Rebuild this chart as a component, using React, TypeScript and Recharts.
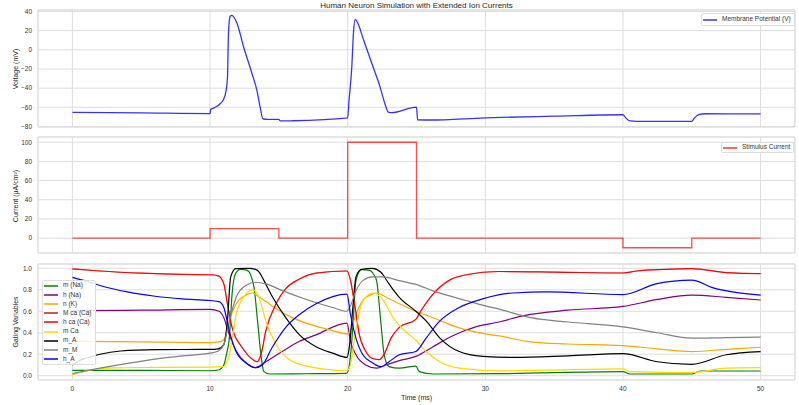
import React from "react";
import {
  LineChart,
  Line,
  XAxis,
  YAxis,
  CartesianGrid,
  ReferenceArea,
  Legend,
} from "recharts";

/* Tick positions */
const TIME_TICKS = [0, 10, 20, 30, 40, 50];
const V_TICKS = [-80, -60, -40, -20, 0, 20, 40];
const I_TICKS = [0, 20, 40, 60, 80, 100];
const G_TICKS = [0, 0.2, 0.4, 0.6, 0.8, 1.0];

/* Membrane potential (ms, mV) */
const voltage: [number, number][] = [
  [0, -65.2], [5, -65.8], [10, -66.5], [10.05, -62], [10.3, -60.5], [10.75, -56],
  [11.0, -51], [11.17, -42], [11.27, -28], [11.34, 17.5], [11.46, 35], [11.58, 36],
  [11.95, 28], [12.43, 3.5], [13.04, -24.5], [13.4, -42], [13.64, -59.7],
  [13.84, -71.9], [14.2, -72.5], [15.0, -72.6], [15.1, -74.2], [16, -74.0],
  [20.0, -71.0], [20.1, -52.6], [20.3, -17.6], [20.42, 17.5], [20.54, 31.6],
  [20.66, 30], [21.15, 10.5], [21.75, -14], [22.35, -38.6], [22.7, -56],
  [22.95, -65], [23.2, -65.6], [25.0, -59.7], [25.08, -73], [26, -73.2],
  [30, -70.9], [35, -69.2], [40, -67.7], [40.2, -71], [40.5, -74.2], [41, -74.6],
  [45, -74.6], [45.2, -71], [45.5, -67.5], [46, -66.7], [50, -66.9],
];

/* Stimulus current (ms, µA/cm²) */
const stimulus: [number, number][] = [
  [0, 0], [10, 10], [15, 0], [20, 100], [25, 0], [40, -10], [45, 0], [50, 0],
];

/* Gating variables (ms, value) */
const mNa: [number, number][] = [
  [0, 0.05], [5, 0.05], [10, 0.046], [10.6, 0.053], [11, 0.1], [11.2, 0.2],
  [11.4, 0.35], [11.6, 0.76], [11.85, 0.95], [12.2, 0.99], [12.6, 0.985],
  [12.85, 0.965], [13.05, 0.9], [13.2, 0.82], [13.45, 0.51], [13.7, 0.195],
  [13.9, 0.04], [14.3, 0.016], [17, 0.018], [19.9, 0.022], [20.05, 0.05],
  [20.25, 0.25], [20.4, 0.51], [20.6, 0.885], [21, 0.987], [21.6, 0.98],
  [21.9, 0.94], [22.1, 0.885], [22.4, 0.51], [22.65, 0.195], [23, 0.085],
  [23.75, 0.07], [24.95, 0.09], [25.2, 0.038], [26.2, 0.016], [31, 0.019],
  [40, 0.038], [40.5, 0.016], [45, 0.016], [45.6, 0.044], [50, 0.044],
];
const hNa: [number, number][] = [
  [0, 0.605], [5, 0.61], [10, 0.618], [10.65, 0.6], [11, 0.54], [11.4, 0.38],
  [11.9, 0.23], [12.6, 0.12], [13.3, 0.075], [14.05, 0.13], [15.3, 0.23],
  [16.5, 0.32], [17.7, 0.38], [19.95, 0.49], [20.2, 0.32], [20.6, 0.195],
  [21.3, 0.1], [22.1, 0.07], [22.8, 0.1], [23.75, 0.14], [24.95, 0.18],
  [26.2, 0.27], [27.6, 0.37], [29.3, 0.455], [31, 0.5], [32.8, 0.56], [36, 0.61],
  [40, 0.645], [42.5, 0.71], [45, 0.75], [47.5, 0.73], [50, 0.705],
];
const nK: [number, number][] = [
  [0, 0.32], [5, 0.315], [10, 0.308], [10.65, 0.315], [11, 0.335], [11.2, 0.4],
  [11.4, 0.51], [11.9, 0.67], [12.6, 0.75], [13.1, 0.77], [13.45, 0.745],
  [14.5, 0.65], [15.75, 0.555], [17.2, 0.48], [18.9, 0.42], [19.95, 0.39],
  [20.2, 0.42], [20.6, 0.57], [21.1, 0.7], [21.8, 0.76], [22.1, 0.77],
  [22.8, 0.73], [23.75, 0.67], [24.95, 0.6], [26.2, 0.54], [28.1, 0.445],
  [30, 0.39], [31, 0.37], [33.3, 0.315], [36, 0.295], [40, 0.28], [42.5, 0.25],
  [45, 0.225], [47.5, 0.245], [50, 0.265],
];
const hCa: [number, number][] = [
  [0, 0.994], [2, 0.975], [5, 0.955], [8, 0.943], [10, 0.94], [10.6, 0.93],
  [11, 0.855], [11.26, 0.67], [11.6, 0.45], [12.35, 0.26], [13.1, 0.15],
  [13.4, 0.13], [13.7, 0.195], [14.05, 0.415], [14.8, 0.67], [15.5, 0.81],
  [16.5, 0.9], [17.7, 0.955], [19.95, 0.975], [20.2, 0.89], [20.5, 0.67],
  [20.85, 0.38], [21.3, 0.23], [21.8, 0.16], [22.3, 0.15], [22.65, 0.2],
  [23.15, 0.35], [23.75, 0.45], [24.95, 0.525], [25.3, 0.6], [26.2, 0.76],
  [27.4, 0.89], [28.6, 0.94], [31, 0.97], [35, 0.965], [40, 0.956], [41, 0.975],
  [43, 0.99], [45, 0.997], [47.5, 0.96], [50, 0.95],
];
// M ca (Ca) sits exactly under h ca (Ca) in the reference; it never shows.
const MCa: [number, number][] = hCa;
const mCa: [number, number][] = [
  [0, 0.01], [1, 0.045], [2, 0.065], [3, 0.073], [6, 0.077], [10, 0.08],
  [11, 0.085], [11.2, 0.12], [11.4, 0.195], [11.65, 0.38], [11.9, 0.57],
  [12.6, 0.76], [13.1, 0.8], [13.45, 0.76], [13.75, 0.65], [14.05, 0.51],
  [14.8, 0.29], [15.75, 0.15], [17.2, 0.085], [19.95, 0.047], [20.2, 0.1],
  [20.5, 0.35], [20.85, 0.6], [21.3, 0.73], [21.9, 0.77], [22.6, 0.7],
  [23.3, 0.54], [24.3, 0.4], [24.95, 0.33], [25.7, 0.225], [26.7, 0.13],
  [28.1, 0.07], [31, 0.045], [40, 0.063], [40.5, 0.038], [45, 0.03],
  [47.5, 0.07], [50, 0.075],
];
const mA: [number, number][] = [
  [0, 0.1], [0.5, 0.14], [1, 0.165], [2, 0.2], [3.5, 0.23], [6, 0.243],
  [10, 0.245], [10.6, 0.25], [11, 0.29], [11.26, 0.51], [11.5, 0.92],
  [11.87, 0.997], [12.84, 1.0], [13.3, 0.99], [13.57, 0.965], [13.9, 0.89],
  [14.55, 0.73], [15.5, 0.54], [16.5, 0.38], [17.7, 0.27], [18.9, 0.21],
  [19.95, 0.17], [20.1, 0.25], [20.4, 0.67], [20.6, 0.92], [21, 0.99],
  [21.8, 1.0], [22.4, 0.965], [23, 0.855], [23.75, 0.73], [24.95, 0.6],
  [25.7, 0.51], [26.7, 0.35], [28.1, 0.225], [29.8, 0.18], [32, 0.17],
  [36, 0.185], [40, 0.205], [42.5, 0.13], [45, 0.105], [47.5, 0.195], [50, 0.225],
];
const mM: [number, number][] = [
  [0, 0.02], [2, 0.07], [4, 0.115], [6, 0.155], [8, 0.185], [10, 0.21],
  [10.6, 0.23], [11, 0.29], [11.4, 0.51], [11.9, 0.73], [12.6, 0.84],
  [13.3, 0.87], [14.05, 0.855], [15.3, 0.79], [17, 0.71], [18.9, 0.635],
  [19.95, 0.6], [20.2, 0.65], [20.6, 0.79], [21.1, 0.885], [21.8, 0.92],
  [22.55, 0.92], [23.75, 0.885], [24.95, 0.85], [26.2, 0.79], [28.6, 0.7],
  [30, 0.65], [31, 0.62], [33.3, 0.54], [36, 0.5], [40, 0.455], [42.5, 0.4],
  [45, 0.35], [47.5, 0.355], [50, 0.36],
];
const hA: [number, number][] = [
  [0, 0.915], [1, 0.88], [2, 0.84], [4, 0.78], [6, 0.74], [8, 0.715], [10, 0.7],
  [10.65, 0.69], [11, 0.635], [11.4, 0.415], [11.87, 0.23], [12.6, 0.12],
  [13.3, 0.075], [13.8, 0.1], [14.5, 0.26], [15.5, 0.45], [16.5, 0.57],
  [17.7, 0.67], [19.95, 0.76], [20.2, 0.57], [20.6, 0.35], [21.1, 0.195],
  [21.8, 0.12], [22.4, 0.085], [23, 0.13], [23.75, 0.195], [24.95, 0.225],
  [25.7, 0.35], [26.7, 0.51], [28.1, 0.635], [29.8, 0.715], [32, 0.77],
  [34.5, 0.78], [40, 0.755], [42.4, 0.855], [45, 0.89], [46.5, 0.82], [50, 0.75],
];

const GATING = [
  { name: "m (Na)", color: "#008000", pts: mNa, width: 1.2 },
  { name: "h (Na)", color: "#800080", pts: hNa, width: 1.2 },
  { name: "n (K)", color: "#ffa500", pts: nK, width: 1.2 },
  { name: "M ca (Ca)", color: "#a52a2a", pts: MCa, width: 0.5 },
  { name: "h ca (Ca)", color: "#ff0000", pts: hCa, width: 1.2 },
  { name: "m Ca", color: "#ffd700", pts: mCa, width: 1.2 },
  { name: "m_A", color: "#000000", pts: mA, width: 1.2 },
  { name: "m_M", color: "#808080", pts: mM, width: 1.2 },
  { name: "h_A", color: "#0000ff", pts: hA, width: 1.2 },
];

const T_DOMAIN: [number, number] = [-2.5, 52.5];
const FONT = "'Liberation Sans', Arial, sans-serif";
const GRID = "#dddddd";
const TEXT = "#333333";

const rows = (pts: [number, number][]) => pts.map(([t, v]) => ({ t, v }));
const minus = (v: number) => String(v).replace("-", "\u2212");
const tickStyle = { fontSize: 6.5, fill: TEXT, fontFamily: FONT };

/** matplotlib-style legend box */
function LegendBox({ items, rowH }: { items: { name: string; color: string; alpha?: number }[]; rowH: number }) {
  return (
    <div
      style={{
        background: "rgba(255,255,255,0.85)",
        border: "1px solid #dddddd",
        borderRadius: 2,
        padding: "0px 3px 0px 1px",
        fontFamily: FONT,
      }}
    >
      {items.map((it) => (
        <div key={it.name} style={{ display: "flex", alignItems: "center", height: rowH }}>
          <svg width={14} height={4} style={{ display: "block" }}>
            <line x1={0} x2={14} y1={2} y2={2} stroke={it.color} strokeOpacity={it.alpha ?? 1} strokeWidth={1.5} />
          </svg>
          <span style={{ marginLeft: 5, fontSize: 6.5, color: TEXT, whiteSpace: "nowrap", lineHeight: 1 }}>
            {it.name}
          </span>
        </div>
      ))}
    </div>
  );
}

const legendPos = (top: number, left: number) => ({
  top,
  left,
  right: "auto",
  bottom: "auto",
  width: "auto",
  height: "auto",
});

export default function App() {
  return (
    <div style={{ position: "absolute", left: 0, top: 0, width: 799, height: 405, background: "#fff", fontFamily: FONT }}>
      {/* Voltage panel */}
      <div style={{ position: "absolute", left: 0, top: 0 }}>
        <LineChart width={799} height={130} margin={{ top: 10, right: 4, bottom: 3, left: 8 }}>
          <CartesianGrid stroke={GRID} strokeWidth={1} />
          <ReferenceArea x1={T_DOMAIN[0]} x2={T_DOMAIN[1]} y1={-80.5} y2={41.5} fill="none" stroke={GRID} />
          <XAxis type="number" dataKey="t" domain={T_DOMAIN} ticks={TIME_TICKS} allowDataOverflow hide />
          <YAxis
            type="number"
            domain={[-80.5, 41.5]}
            ticks={V_TICKS}
            interval={0}
            width={30}
            tickLine={false}
            axisLine={false}
            tickSize={4}
            tickMargin={2}
            tick={tickStyle}
            tickFormatter={minus}
            allowDataOverflow
          />
          <Line
            data={rows(voltage)}
            dataKey="v"
            name="Membrane Potential (V)"
            type="monotone"
            stroke="#0000ff"
            strokeOpacity={0.8}
            strokeWidth={1.3}
            dot={false}
            isAnimationActive={false}
          />
          <Legend
            layout="vertical"
            align="center"
            verticalAlign="middle"
            wrapperStyle={legendPos(13, 701)}
            content={() => (
              <LegendBox rowH={11} items={[{ name: "Membrane Potential (V)", color: "#0000ff", alpha: 0.8 }]} />
            )}
          />
        </LineChart>
      </div>

      {/* Stimulus panel */}
      <div style={{ position: "absolute", left: 0, top: 130 }}>
        <LineChart width={799} height={130} margin={{ top: 7, right: 4, bottom: 7, left: 8 }}>
          <CartesianGrid stroke={GRID} strokeWidth={1} />
          <ReferenceArea x1={T_DOMAIN[0]} x2={T_DOMAIN[1]} y1={-15.5} y2={105.5} fill="none" stroke={GRID} />
          <XAxis type="number" dataKey="t" domain={T_DOMAIN} ticks={TIME_TICKS} allowDataOverflow hide />
          <YAxis
            type="number"
            domain={[-15.5, 105.5]}
            ticks={I_TICKS}
            interval={0}
            width={30}
            tickLine={false}
            axisLine={false}
            tickSize={4}
            tickMargin={2}
            tick={tickStyle}
            tickFormatter={minus}
            allowDataOverflow
          />
          <Line
            data={rows(stimulus)}
            dataKey="v"
            name="Stimulus Current"
            type="stepAfter"
            stroke="#ff0000"
            strokeOpacity={0.7}
            strokeWidth={1.3}
            dot={false}
            isAnimationActive={false}
          />
          <Legend
            layout="vertical"
            align="center"
            verticalAlign="middle"
            wrapperStyle={legendPos(12, 721)}
            content={() => <LegendBox rowH={9} items={[{ name: "Stimulus Current", color: "#ff0000", alpha: 0.8 }]} />}
          />
        </LineChart>
      </div>

      {/* Gating panel */}
      <div style={{ position: "absolute", left: 0, top: 254 }}>
        <LineChart width={799} height={151} margin={{ top: 10, right: 4, bottom: 0, left: 8 }}>
          <CartesianGrid stroke={GRID} strokeWidth={1} />
          <ReferenceArea x1={T_DOMAIN[0]} x2={T_DOMAIN[1]} y1={-0.04} y2={1.04} fill="none" stroke={GRID} />
          <XAxis
            type="number"
            dataKey="t"
            domain={T_DOMAIN}
            ticks={TIME_TICKS}
            interval={0}
            height={25}
            tickLine={false}
            axisLine={false}
            tickSize={4}
            tickMargin={2}
            tick={tickStyle}
            allowDataOverflow
          />
          <YAxis
            type="number"
            domain={[-0.04, 1.04]}
            ticks={G_TICKS}
            interval={0}
            width={30}
            tickLine={false}
            axisLine={false}
            tickSize={4}
            tickMargin={2}
            tick={tickStyle}
            tickFormatter={(v: number) => v.toFixed(1)}
            allowDataOverflow
          />
          {GATING.map((s) => (
            <Line
              key={s.name}
              data={rows(s.pts)}
              dataKey="v"
              name={s.name}
              type="monotone"
              stroke={s.color}
              strokeWidth={s.width}
              dot={false}
              isAnimationActive={false}
            />
          ))}
          <Legend
            layout="vertical"
            align="center"
            verticalAlign="middle"
            wrapperStyle={legendPos(26, 42)}
            content={() => <LegendBox rowH={9.2} items={GATING} />}
          />
        </LineChart>
      </div>

      {/* Title and axis labels */}
      <svg
        width={799}
        height={405}
        style={{ position: "absolute", left: 0, top: 0, pointerEvents: "none" }}
        fontFamily={FONT}
        fill="#262626"
      >
        <text x={416.5} y={5} fontSize={8} textAnchor="middle" dominantBaseline="central">
          Human Neuron Simulation with Extended Ion Currents
        </text>
        <text x={15} y={69} fontSize={7} textAnchor="middle" dominantBaseline="central" transform="rotate(-90 15 69)">
          Voltage (mV)
        </text>
        <text x={15} y={196} fontSize={7} textAnchor="middle" dominantBaseline="central" transform="rotate(-90 15 196)">
          Current (μA/cm²)
        </text>
        <text x={15} y={322} fontSize={7} textAnchor="middle" dominantBaseline="central" transform="rotate(-90 15 322)">
          Gating Variables
        </text>
        <text x={416.5} y={397} fontSize={7} textAnchor="middle" dominantBaseline="central">
          Time (ms)
        </text>
      </svg>
    </div>
  );
}
